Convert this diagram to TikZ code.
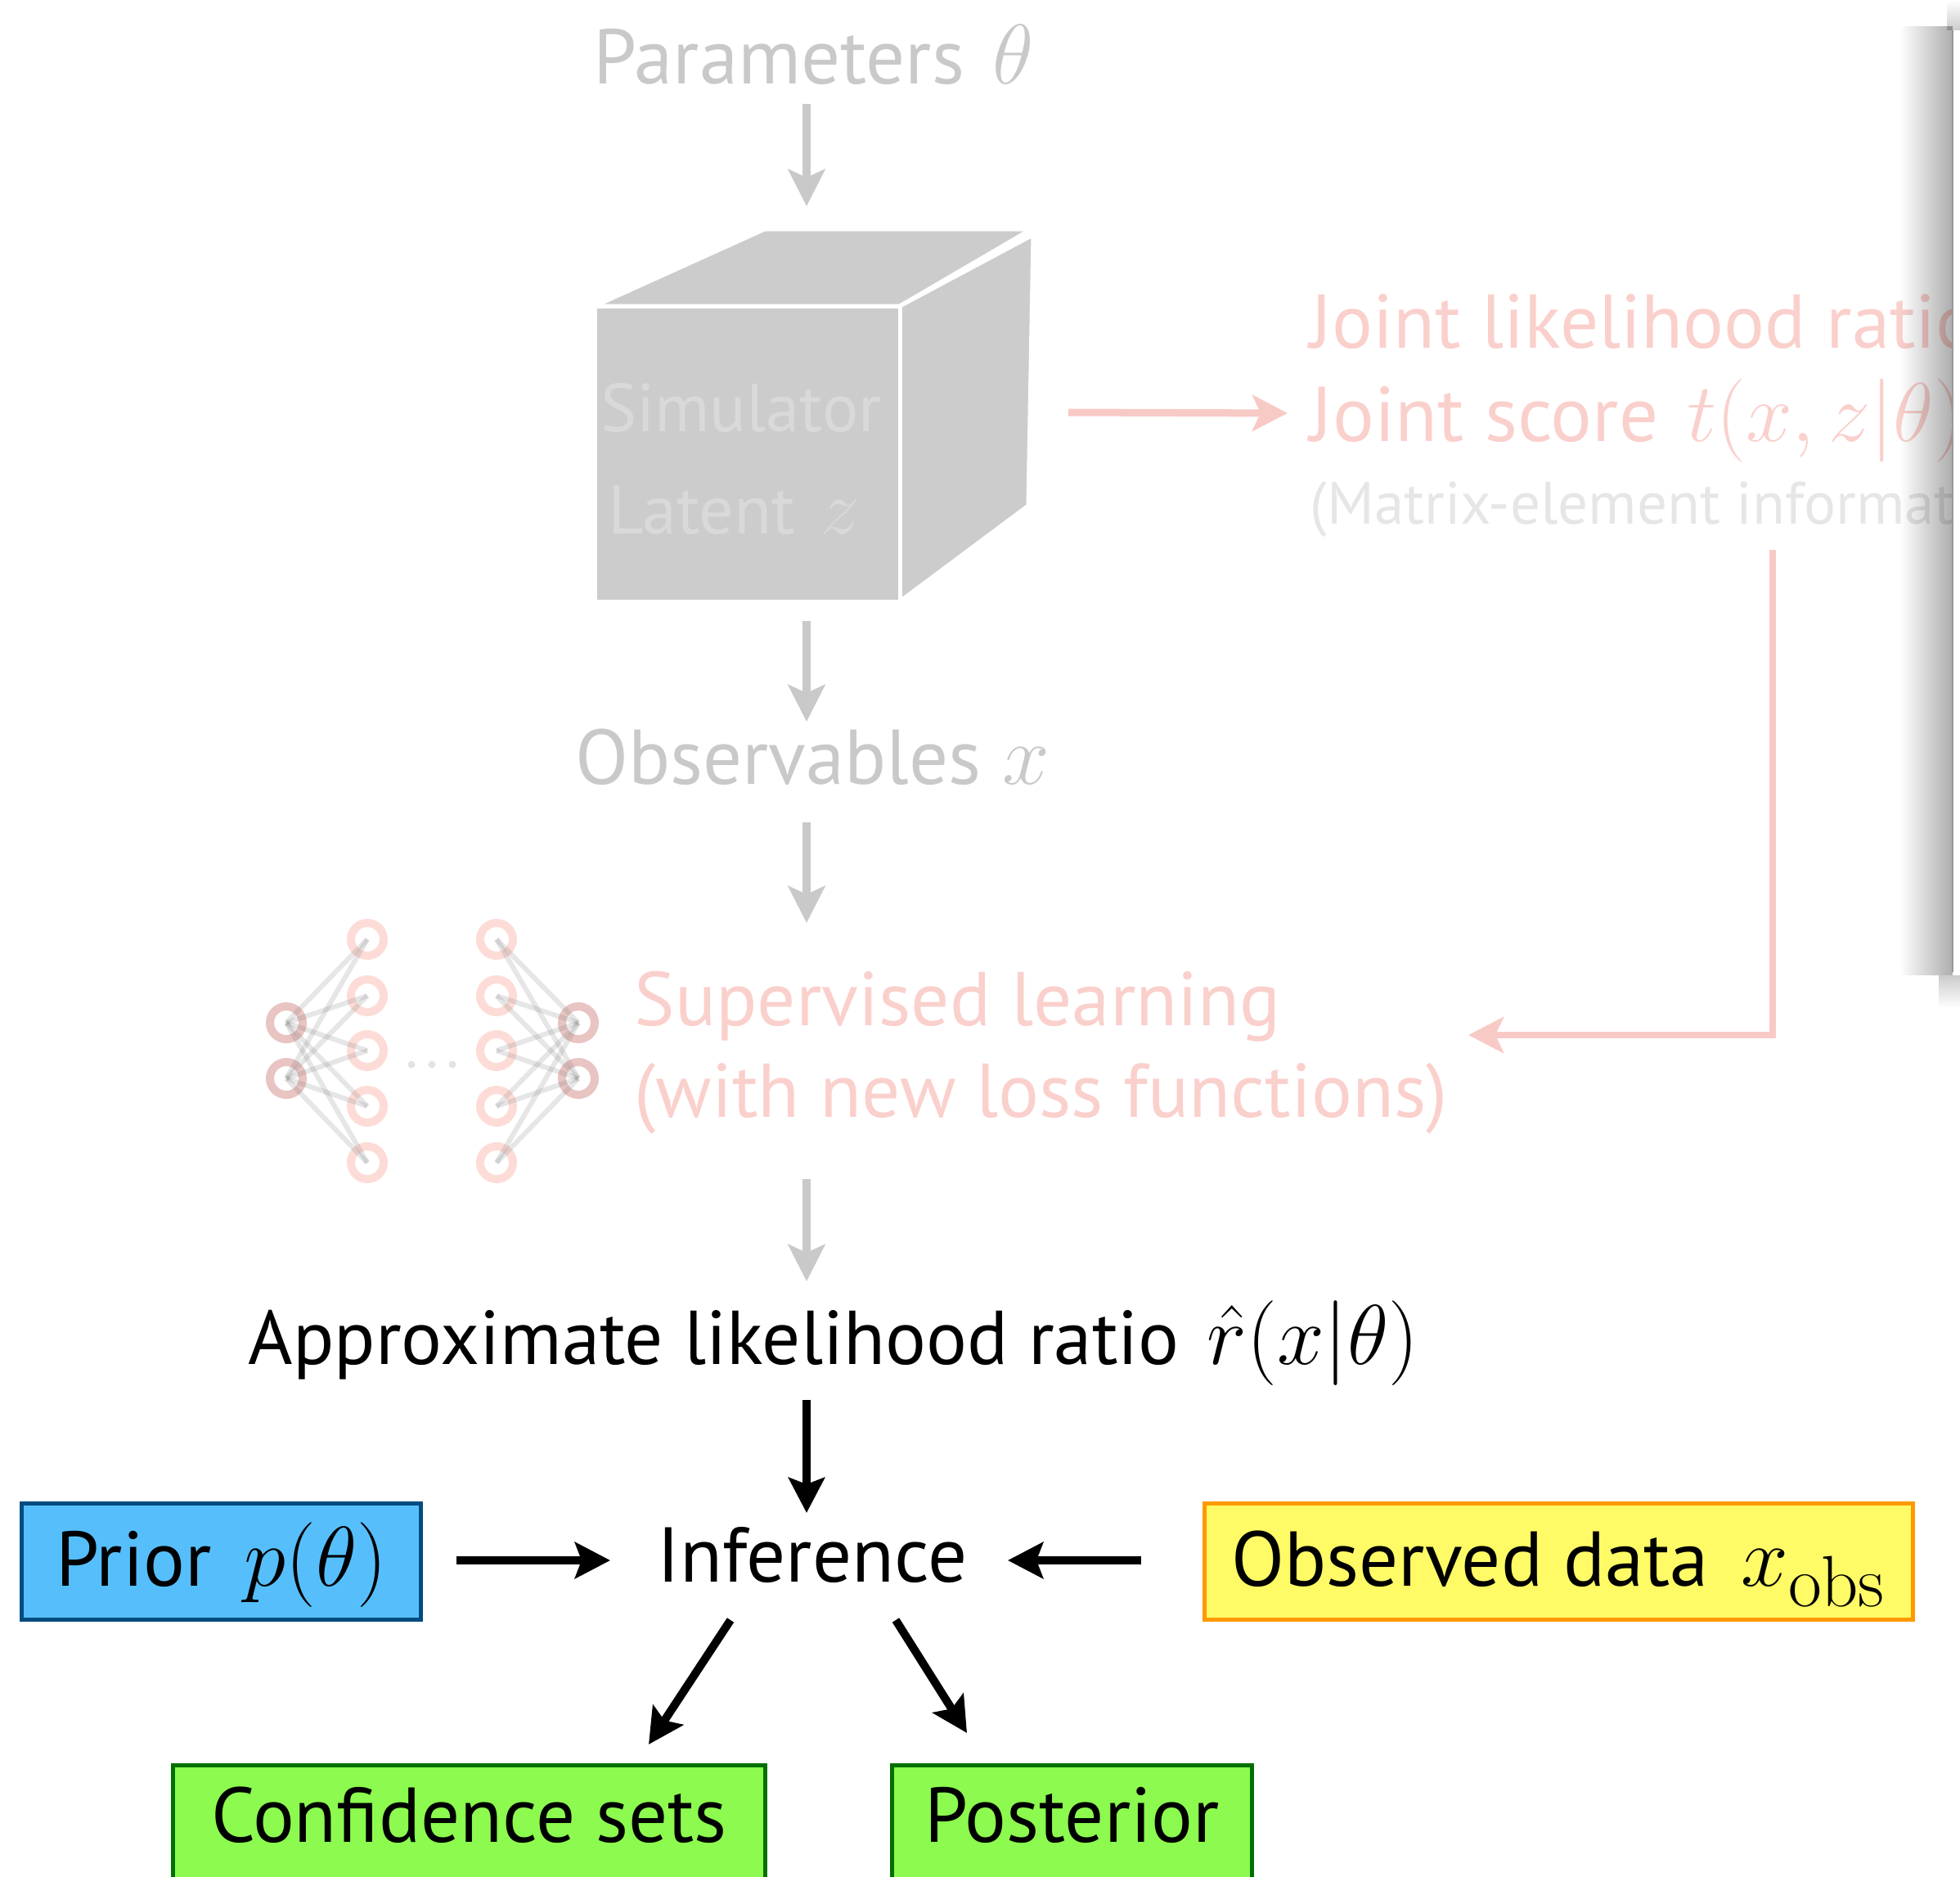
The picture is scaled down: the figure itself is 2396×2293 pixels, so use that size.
\documentclass[tikz,border=0pt]{standalone}
\usepackage{fix-cm}
\usepackage[no-math]{fontspec}
\setmainfont{PT Sans}
\usetikzlibrary{arrows.meta,calc,fadings}

\definecolor{ghost}{HTML}{C9C9C9}
\definecolor{cubefill}{HTML}{CCCCCC}
\definecolor{cubetext}{HTML}{D9D9D9}
\definecolor{blush}{HTML}{FAD0CC}
\definecolor{blushline}{HTML}{F8CAC6}
\definecolor{mist}{HTML}{E6E6E6}
\definecolor{ringlight}{HTML}{FDDCD7}
\definecolor{ringdark}{HTML}{E8C4C2}
\definecolor{dotgray}{HTML}{E3E3E3}
\definecolor{priorfill}{HTML}{56BFFB}
\definecolor{priorline}{HTML}{004C7F}
\definecolor{obsfill}{HTML}{FFFB66}
\definecolor{obsline}{HTML}{FF9900}
\definecolor{resfill}{HTML}{8CFA4E}
\definecolor{resline}{HTML}{007000}

\tikzfading[name=fadeleft, left color=transparent!100, right color=transparent!0]
\tikzfading[name=fadeup, top color=transparent!100, bottom color=transparent!0]
\tikzfading[name=fadedown, top color=transparent!0, bottom color=transparent!100]

\newcommand\sizeat[1]{\fontsize{#1}{#1}\selectfont}
% formulas are set a little larger than the surrounding words
\newcommand\mth[2][29.5]{{\fontsize{#1}{#1}\selectfont$#2$}}

\tikzset{
  txt/.style={inner sep=0pt, font=\sizeat{27}},
  ghostarrow/.style={draw=ghost, line width=0.1cm, -{Stealth[length=0.45cm,width=0.45cm,inset=0.1cm]}},
  pinkarrow/.style={draw=blushline, line width=0.09cm, -{Stealth[length=0.43cm,width=0.44cm,inset=0.1cm]}},
  inkarrow/.style={draw=black, line width=0.1cm, -{Stealth[length=0.43cm,width=0.44cm,inset=0.08cm]}},
  boxed/.style={line width=0.05cm, inner sep=0pt, font=\sizeat{27}},
  ring/.style={circle, line width=0.1cm, minimum size=0.4cm, inner sep=0pt},
  synapse/.style={draw=gray, line width=0.06cm, opacity=0.2},
  cubeface/.style={fill=cubefill, draw=white, line width=0.05cm, line join=round}
}

\begin{document}
\begin{tikzpicture}[x=0.01cm, y=-0.01cm]
\useasboundingbox (0,0) rectangle (2396,2293);

% parameters and simulator
\node[txt, text=ghost, anchor=base] (params) at (995,102) {Parameters\ \hspace{0.1em}\mth{\theta}};

\coordinate (cubetop) at (986,280);
\coordinate (cubebottom) at (986,735);
\coordinate (cuberight) at (1256,504);

\draw[cubeface] (727,374) -- (935,280) -- (1261,280) -- (1100,374) -- cycle;
\draw[cubeface] (1100,374) -- (1263,287) -- (1257,618) -- (1100,735) -- cycle;
\draw[cubeface] (727,374) rectangle (1100,735);

\node[txt, text=cubetext, anchor=base, font=\sizeat{23.6}] (sim) at (906,527) {Simulator};
\node[txt, text=cubetext, anchor=base, font=\sizeat{24}] (lat) at (897,652) {Latent\ \hspace{0.1em}\mth[27]{z}};

\draw[ghostarrow] ($(params.base)+(-9,25)$) -- ($(cubetop)+(0,-28)$);

% joint quantities from the simulator
\node[txt, text=blush, anchor=base west, font=\sizeat{26.5}] (joint1) at (1601,425) {Joint likelihood ratio};
\node[txt, text=blush, anchor=base west] (joint2) at (1601,539) {Joint score\ \hspace{0.1em}\mth[29]{t(x,z|\theta)}};
\node[txt, text=mist, anchor=base west, font=\sizeat{20.8}] (joint3) at (1601,640) {(Matrix-element information)};

\draw[pinkarrow] ($(cuberight)+(50,0)$) -- ($(joint2.base west)+(-27,-34)$);

% observables
\node[txt, text=ghost, anchor=base] (obsv) at (993,958) {Observables \mth{x}};
\draw[ghostarrow] ($(cubebottom)+(0,24)$) -- ($(obsv.base)+(-7,-76)$);

% neural network
\foreach \k/\y in {1/1148,2/1217,3/1284,4/1352,5/1421}{
  \node[ring, draw=ringlight] (a\k) at (449,\y) {};
  \node[ring, draw=ringlight] (b\k) at (607,\y) {};
}
\node[ring, draw=ringdark] (i1) at (350,1250) {};
\node[ring, draw=ringdark] (i2) at (350,1318) {};
\node[ring, draw=ringdark] (o1) at (707,1250) {};
\node[ring, draw=ringdark] (o2) at (707,1318) {};
\foreach \i in {1,2}{
  \foreach \k in {1,...,5}{
    \draw[synapse] (i\i.center) -- (a\k.center);
    \draw[synapse] (b\k.center) -- (o\i.center);
  }
}
\foreach \x in {503,528,553}{
  \fill[dotgray] (\x,1301) circle (0.045cm);
}

\node[txt, text=blush, anchor=base west, font=\sizeat{26.5}] (sup1) at (775,1253) {Supervised learning};
\node[txt, text=blush, anchor=base west, font=\sizeat{26.5}] (sup2) at (775,1365) {(with new loss functions)};

\draw[ghostarrow] ($(obsv.base)+(-7,47)$) -- ($(sup1.base west)+(211,-125)$);

\coordinate (elbowtop) at (2167,672);
\draw[pinkarrow, line width=0.08cm] (elbowtop) |- ($(elbowtop)+(-372,593)$);

% inference
\node[txt, anchor=base west, font=\sizeat{26.5}] (approx) at (303,1667) {Approximate likelihood ratio\ \hspace{0.1em}\mth{\hat r(x|\theta)}};
\draw[ghostarrow] ($(sup2.base west)+(211,76)$) -- ($(approx.base west)+(683,-101)$);

\node[txt, anchor=base] (inf) at (993,1933) {Inference};
\draw[inkarrow] ($(approx.base west)+(683,44)$) -- ($(inf.base)+(-7,-84)$);

\node[boxed, draw=priorline, fill=priorfill, minimum width=4.88cm, minimum height=1.42cm,
      text height=0.7cm, text depth=0.11cm] (prior) at (270.5,1908.5) {Prior\ \hspace{0.15em}\mth{p(\theta)}};
\node[boxed, draw=obsline, fill=obsfill, minimum width=8.66cm, minimum height=1.42cm,
      text height=0.7cm, text depth=0.11cm] (obs) at (1905.5,1908.5)
      {Observed data\ \hspace{0.15em}\mth{x_{\scalebox{1.22}{$\scriptstyle\mathrm{obs}$}}}};

\draw[inkarrow] ($(prior.east)+(41,-1.5)$) -- ($(inf.base)+(-247,-26)$);
\draw[inkarrow] ($(obs.west)+(-75,-1.5)$) -- ($(inf.base)+(239,-26)$);

\node[boxed, draw=resline, fill=resfill, minimum width=7.24cm, minimum height=1.70cm,
      text height=0.62cm, text depth=0.45cm] (conf) at (573.5,2242.5) {Confidence sets};
\node[boxed, draw=resline, fill=resfill, minimum width=4.40cm, minimum height=1.70cm,
      text height=0.62cm, text depth=0.45cm] (post) at (1310.5,2242.5) {Posterior};

\draw[inkarrow] ($(inf.base)+(-100,47)$) -- ($(conf.north)+(219.5,-23)$);
\draw[inkarrow] ($(inf.base)+(102,47)$) -- ($(post.north)+(-128.5,-37)$);

% overlapping sheet at the right margin, with a soft shadow
\fill[black, opacity=0.32, path fading=fadeleft] (2322,32) rectangle (2387,1192);
\fill[black, opacity=0.2, path fading=fadeup] (2380,0) rectangle (2396,37);
\fill[black, opacity=0.2, path fading=fadedown] (2370,1192) rectangle (2396,1232);
\fill[white] (2387,37) rectangle (2396,1188);
\draw[black!40, line width=0.025cm] (2387,37) -- (2387,1188);
\end{tikzpicture}
\end{document}
